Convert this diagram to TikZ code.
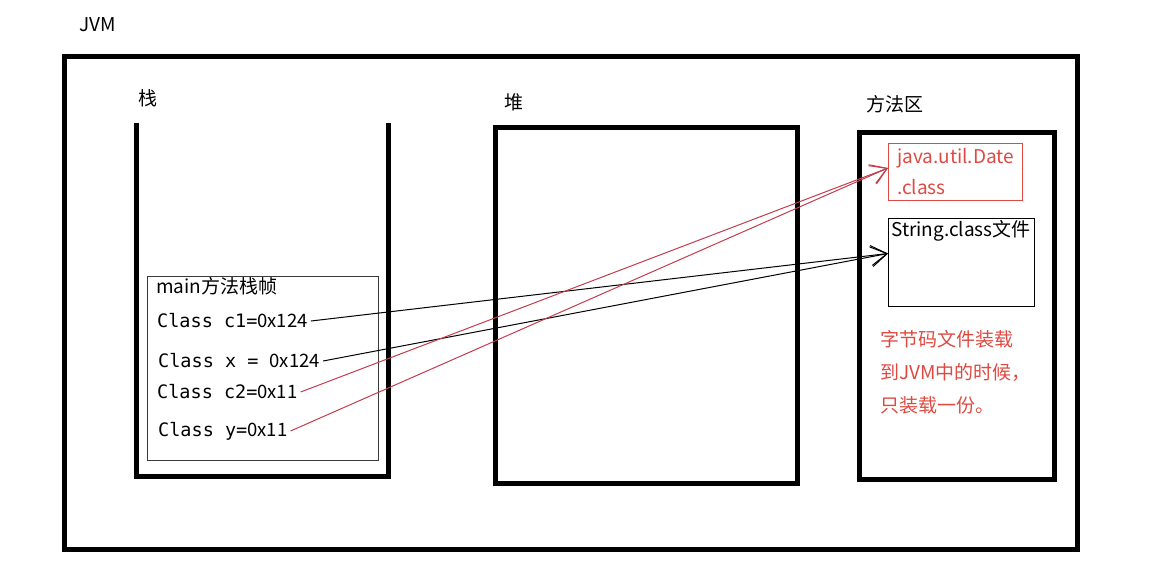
\documentclass[tikz,border=0pt]{standalone}
\usepackage{fontspec}
\setmainfont{Noto Sans CJK SC}
\setmonofont{DejaVu Sans Mono}
\usetikzlibrary{arrows.meta,positioning}
\definecolor{jvmred}{HTML}{DE4A42}
\definecolor{linkred}{HTML}{C43C4C}
\definecolor{framegray}{HTML}{3A3A3A}

\begin{document}
\begin{tikzpicture}[x=1pt, y=-1pt, >={Straight Barb[length=16pt,width=20pt]},
    every node/.style={font=\fontsize{19}{22}\selectfont, inner sep=0pt}]
  \useasboundingbox (0,0) rectangle (1153,560);

  % outer JVM frame
  \node[draw, line width=5pt, minimum width=1013pt, minimum height=493pt, anchor=north west] (jvm) at (62,54) {};
  \node[anchor=west] (jvmlabel) at (79,25) {JVM};

  % stack (open top)
  \draw[line width=5pt, line join=miter] (136,123) -- (136,476) -- (388,476) -- (388,123);
  \node (stacklabel) at (148,98) {栈};

  % heap
  \node[draw, line width=5pt, minimum width=302pt, minimum height=356pt, anchor=north west] (heap) at (493,125) {};
  \node (heaplabel) at (514,102) {堆};

  % method area
  \node[draw, line width=5pt, minimum width=195pt, minimum height=347pt, anchor=north west] (method) at (857,130) {};
  \node[anchor=west] (methodlabel) at (866,104) {方法区};
  \node[draw=jvmred, line width=1pt, text=jvmred, align=left, anchor=north west,
        minimum width=134pt, minimum height=57pt, inner xsep=4pt,
        font=\fontsize{19}{31}\selectfont] (datebox) at (888,143) {java.util.Date\\.class};
  \node[draw, line width=1pt, minimum width=146pt, minimum height=88pt, anchor=north west] (strbox) at (888,218) {};
  \node[anchor=north west] (strlabel) at (891,220) {String.class文件};
  \node[text=jvmred, align=left, anchor=north west, font=\fontsize{19}{33}\selectfont] (note) at (880,330)
    {字节码文件装载\\到JVM中的时候，\\只装载一份。};

  % main stack frame
  \node[draw=framegray, line width=1pt, minimum width=231pt, minimum height=184pt, anchor=north west] (mainframe) at (147,276) {};
  \node[anchor=west] (maintitle) at (156,286) {main方法栈帧};
  \node[anchor=west] (c1) at (157,321) {\fontsize{18.5}{20}\ttfamily Class c1=\rmfamily 0x124};
  \node[anchor=west] (cx) at (158,361) {\fontsize{18.5}{20}\ttfamily Class x = \rmfamily 0x124};
  \node[anchor=west] (c2) at (157,392) {\fontsize{18.5}{20}\ttfamily Class c2=\rmfamily 0x11};
  \node[anchor=west] (cy) at (158,431) {\fontsize{18.5}{20}\ttfamily Class y=\rmfamily 0x11};

  % references into the method area
  \coordinate (strin) at ([yshift=9pt]strbox.west);
  \coordinate (datein) at ([yshift=4pt]datebox.west);
  \draw[->, line width=1pt] ([xshift=3pt]c1.east) -- (strin);
  \draw[->, line width=1pt] ([xshift=3pt]cx.east) -- (strin);
  \draw[->, line width=1pt, linkred] ([xshift=3pt]c2.east) -- (datein);
  \draw[->, line width=1pt, linkred] ([xshift=3pt]cy.east) -- (datein);
\end{tikzpicture}
\end{document}
